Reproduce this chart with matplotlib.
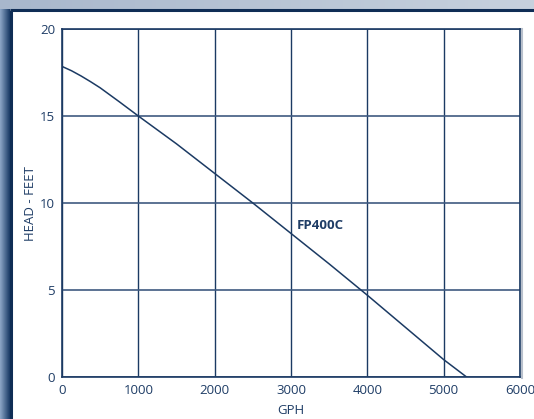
import matplotlib.pyplot as plt
import numpy as np
from matplotlib.patches import Rectangle

# pump curve (GPH vs head in feet)
gph = [0, 125, 250, 375, 500, 750, 1000, 1500, 2000, 2500, 3000, 3500, 4000, 4500, 5000, 5300]
head = [17.85, 17.6, 17.3, 16.97, 16.62, 15.82, 15.0, 13.4, 11.7, 10.0, 8.25, 6.5, 4.7, 2.85, 1.0, 0.0]
x_ticks = [0, 1000, 2000, 3000, 4000, 5000, 6000]
y_ticks = [0, 5, 10, 15, 20]
model = "FP400C"

navy = "#1b3a63"
txt = "#1f3d66"
plt.rcParams["font.family"] = ["Open Sans", "DejaVu Sans"]

W, H = 534, 419
fig = plt.figure(figsize=(W / 100, H / 100), dpi=100)

# background frame (pixel coordinates, y down)
bg = fig.add_axes([0, 0, 1, 1])
bg.set_xlim(0, W)
bg.set_ylim(H, 0)
bg.axis("off")
top = np.linspace(0, 1, 200)
top_img = np.zeros((1, 200, 3))
top_img[0, :, 0] = 0.66 + 0.12 * top
top_img[0, :, 1] = 0.72 + 0.10 * top
top_img[0, :, 2] = 0.80 + 0.07 * top
bg.imshow(top_img, extent=[0, W, 10, 0], aspect="auto", interpolation="bicubic")
left = np.linspace(0, 1, 20)
left_img = np.zeros((1, 20, 3))
left_img[0, :, 0] = 0.55 - 0.45 * left
left_img[0, :, 1] = 0.65 - 0.42 * left
left_img[0, :, 2] = 0.78 - 0.38 * left
bg.imshow(left_img, extent=[0, 10, H, 10], aspect="auto", interpolation="bicubic")
bg.add_patch(Rectangle((10, 10), W - 10, H - 10, facecolor="white", edgecolor="none"))
bg.plot([10, W], [10.5, 10.5], color="#0f2d55", lw=2.2, solid_capstyle="butt")
bg.plot([10.5, 10.5], [10, H], color="#0f2d55", lw=2.2, solid_capstyle="butt")
bg.plot([521.5, 521.5], [29, 378], color="#b8c0cc", lw=1.5)

ax = fig.add_axes([62 / W, 1 - 377 / H, (520 - 62) / W, (377 - 29) / H])
ax.set_facecolor("none")
ax.plot(gph, head, color=navy, lw=1.1)
ax.set_xlim(0, 6000)
ax.set_ylim(0, 20)
ax.set_xticks(x_ticks)
ax.set_yticks(y_ticks)
ax.grid(True, axis="x", color=navy, lw=1.0)
ax.grid(True, axis="y", color="#3f5a80", lw=1.2)
for s in ax.spines.values():
    s.set_color(navy)
    s.set_linewidth(1.2)
ax.tick_params(length=0, pad=5, labelsize=9.5, labelcolor=txt)
ax.set_xlabel("GPH", fontsize=9.5, color=txt, labelpad=5)
ax.set_ylabel("HEAD - FEET", fontsize=9.5, color=txt, labelpad=2)
ax.text(3070, 8.7, model, fontsize=9.5, fontweight="bold", color=txt, va="center", ha="left")

fig.savefig("out.png", dpi=100)
